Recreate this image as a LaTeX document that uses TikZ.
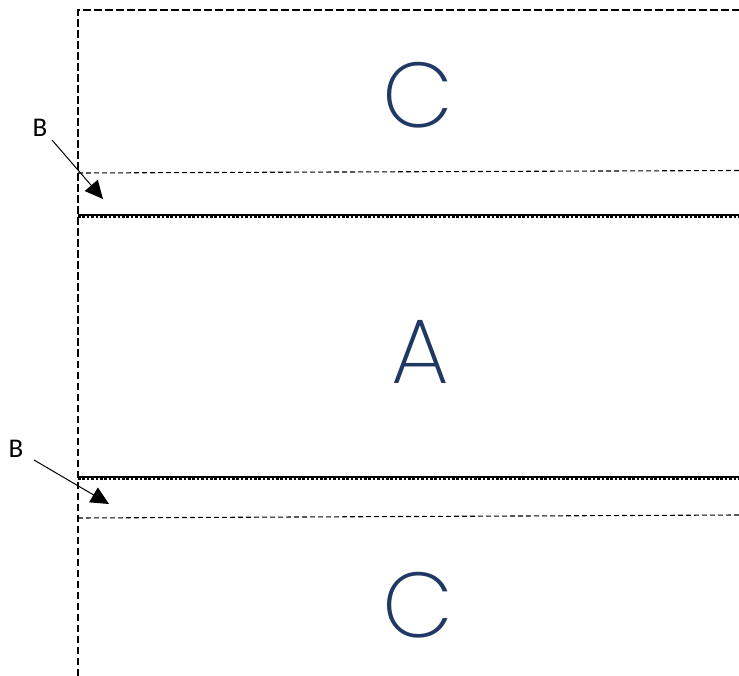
\documentclass[tikz,border=0pt]{standalone}
\usepackage{fontspec}
\setmainfont{Carlito}
\newfontfamily\bigfont{Poppins}[UprightFont={* ExtraLight}]
\usetikzlibrary{arrows.meta}
\definecolor{navy}{HTML}{203864}
\tikzset{
  frame/.style={line width=2pt, dash pattern=on 7.5pt off 3.5pt},
  thindash/.style={line width=1.1pt, dash pattern=on 5pt off 3pt},
  wavebase/.style={line width=1.8pt},
  wavetop/.style={line width=2.4pt, dash pattern=on 2.6pt off 1.8pt},
  bigletter/.style={text=navy, font=\bigfont\fontsize{92}{92}\selectfont, inner sep=0pt},
  blabel/.style={font=\fontsize{27}{27}\selectfont, inner sep=0pt},
  barrow/.style={line width=1pt, -{Triangle[length=18pt,width=17pt]}}
}
\begin{document}
\begin{tikzpicture}[x=1pt,y=-1pt]
\useasboundingbox (0,0) rectangle (739,676);
% frame
\coordinate (tl) at (78,10);
\coordinate (tr) at (739,10);
\coordinate (bl) at (78,676);
\draw[frame] (bl) -- (tl) -- (tr);
% thin dashed lines
\coordinate (t1l) at (78,173);
\coordinate (t1r) at (739,170.5);
\coordinate (t2l) at (78,518);
\coordinate (t2r) at (739,515);
\draw[thindash] (t1l) -- (t1r);
\draw[thindash] (t2l) -- (t2r);
% wavy separators
\coordinate (w1l) at (78,215);
\coordinate (w1r) at (739,215);
\coordinate (w2l) at (78,477);
\coordinate (w2r) at (739,477);
\draw[wavebase] (w1l) -- (w1r);
\draw[wavetop] ([yshift=-1.9pt]w1l) -- ([yshift=-1.9pt]w1r);
\draw[wavebase] (w2l) -- (w2r);
\draw[wavetop] ([yshift=-1.9pt]w2l) -- ([yshift=-1.9pt]w2r);
% letters
\node[bigletter] (c1) at (418,95) {C};
\node[bigletter] (a) at (420,352) {A};
\node[bigletter] (c2) at (418,605) {C};
% B labels
\node[blabel] (b1) at (40,128) {B};
\node[blabel] (b2) at (16,449) {B};
\coordinate (b1end) at (103,199);
\coordinate (b2end) at (109,504);
\draw[barrow] (52,140) -- (b1end);
\draw[barrow] (34,460) -- (b2end);
\end{tikzpicture}
\end{document}
